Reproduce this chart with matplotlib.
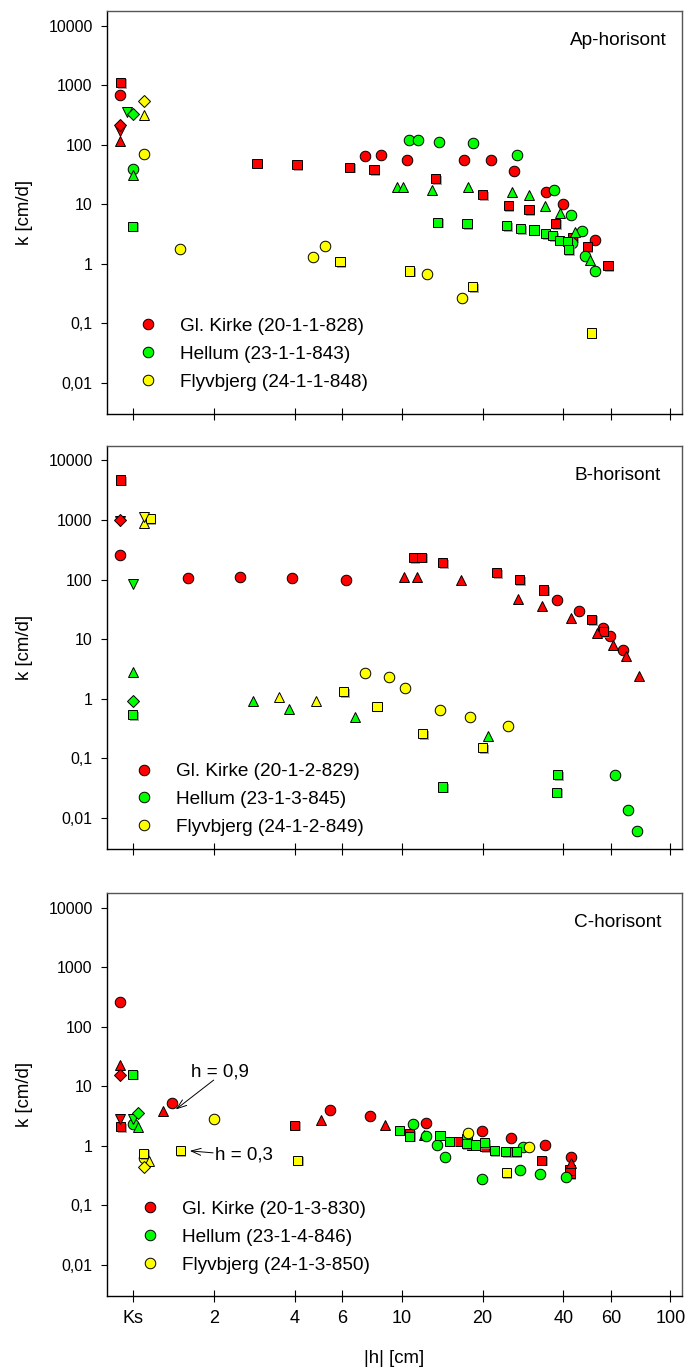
import matplotlib.pyplot as plt
import matplotlib.patheffects as pe
from matplotlib.lines import Line2D
from matplotlib.ticker import NullLocator

plt.rcParams['font.family'] = ['Liberation Sans', 'DejaVu Sans']

# (|h| in cm, k in cm/d); the Ks points sit at |h| ~ 1
# --- Ap-horisont ---
ap_kirke_circle = [(0.9, 690), (7.3, 65), (8.4, 68), (10.45, 56), (17.0, 56), (21.5, 56),
                   (26.2, 36.5), (34.6, 16.4), (39.9, 10.2), (52.6, 2.5)]
ap_kirke_square = [(0.9, 1120), (2.9, 49), (4.08, 46), (6.4, 42), (7.9, 38), (13.4, 27),
                   (20.0, 14.4), (24.9, 9.4), (29.8, 8.1), (37.5, 4.8), (43.3, 2.8),
                   (49.0, 1.95), (58.6, 0.93)]
ap_kirke_up = [(0.9, 117)]
ap_kirke_down = [(0.9, 168)]
ap_kirke_diamond = [(0.9, 218)]

ap_hellum_circle = [(1.0, 39), (10.7, 119), (11.5, 119), (13.8, 113), (18.5, 109), (26.9, 68),
                    (36.8, 17.5), (42.6, 6.7), (46.7, 3.6), (42.9, 2.2), (48.1, 1.37),
                    (52.6, 0.75)]
ap_hellum_square = [(1.0, 4.3), (13.6, 5.0), (17.5, 4.8), (24.6, 4.4), (27.7, 3.9), (31.1, 3.7),
                    (34.4, 3.2), (36.5, 2.95), (38.8, 2.5), (41.4, 2.4), (41.7, 1.75)]
ap_hellum_up = [(1.0, 31), (9.6, 19.4), (10.1, 19.4), (13.0, 17.5), (17.7, 19.9), (25.8, 16),
                (29.8, 14.4), (34.1, 9.2), (39.0, 7.1), (44.2, 3.4), (50.4, 1.17)]
ap_hellum_down = [(0.95, 350)]
ap_hellum_diamond = [(1.0, 330)]

ap_flyv_circle = [(1.1, 70), (1.5, 1.77), (4.68, 1.28), (5.2, 1.96), (12.4, 0.67), (16.8, 0.27)]
ap_flyv_square = [(5.9, 1.08), (10.7, 0.76), (18.4, 0.41), (50.7, 0.069)]
ap_flyv_up = [(1.1, 318)]
ap_flyv_diamond = [(1.1, 545)]

# --- B-horisont ---
b_kirke_circle = [(0.9, 254), (1.6, 107), (2.5, 111), (3.9, 107), (6.2, 100), (38.0, 46),
                  (45.8, 30), (55.9, 15.3), (59.5, 11.2), (66.7, 6.7)]
b_kirke_square = [(0.9, 4700), (11.1, 232), (11.9, 238), (14.2, 194), (22.6, 131), (27.4, 99),
                  (33.8, 67), (50.9, 21.6), (56.2, 13.4)]
b_kirke_up = [(10.2, 110), (11.4, 110), (16.6, 97), (27.0, 47.6), (33.2, 36.3), (42.7, 22.5),
              (53.1, 12.6), (61.2, 8.0), (68.2, 5.2), (76.3, 2.45)]
b_kirke_down = [(0.9, 950)]
b_kirke_diamond = [(0.9, 1000)]

b_hellum_circle = [(62.1, 0.053), (69.8, 0.0136), (75.2, 0.006)]
b_hellum_square = [(1.0, 0.54), (14.2, 0.033), (38.0, 0.053), (37.8, 0.027)]
b_hellum_up = [(1.0, 2.8), (2.8, 0.93), (3.8, 0.67), (6.7, 0.50), (21.0, 0.234)]
b_hellum_down = [(1.0, 85)]
b_hellum_diamond = [(1.0, 0.90)]

b_flyv_circle = [(7.3, 2.75), (9.0, 2.36), (10.3, 1.52), (13.9, 0.66), (18.0, 0.50), (24.9, 0.355)]
b_flyv_square = [(1.16, 1050), (6.1, 1.32), (8.1, 0.75), (12.0, 0.257), (20.0, 0.152)]
b_flyv_up = [(1.1, 885), (3.5, 1.06), (4.8, 0.90)]
b_flyv_down = [(1.1, 1120)]

# --- C-horisont ---
c_kirke_circle = [(0.9, 259), (1.4, 5.2), (5.4, 3.9), (7.6, 3.2), (12.3, 2.4), (19.9, 1.73),
                  (25.5, 1.35), (34.1, 1.02), (42.6, 0.65)]
c_kirke_square = [(0.9, 2.07), (4.0, 2.2), (10.7, 1.6), (16.3, 1.19), (18.2, 1.02), (20.4, 0.95),
                  (26.1, 0.785), (33.1, 0.57), (42.3, 0.34), (42.3, 0.39)]
c_kirke_up = [(0.9, 23), (1.3, 3.84), (5.0, 2.67), (8.65, 2.2), (12.1, 1.5), (42.6, 0.51)]
c_kirke_down = [(0.9, 2.75)]
c_kirke_diamond = [(0.9, 15.3)]

c_hellum_circle = [(1.0, 2.3), (11.0, 2.35), (12.3, 1.44), (13.5, 1.02), (14.5, 0.65),
                   (19.9, 0.275), (27.6, 0.385), (32.7, 0.334), (41.0, 0.30), (28.4, 0.95)]
c_hellum_square = [(1.0, 15.9), (9.8, 1.82), (10.7, 1.44), (13.9, 1.5), (15.1, 1.19), (17.5, 1.32),
                   (17.4, 1.08), (18.8, 1.02), (20.4, 1.13), (22.1, 0.815), (24.4, 0.785),
                   (26.7, 0.785)]
c_hellum_up = [(1.05, 2.07)]
c_hellum_down = [(1.0, 2.75)]
c_hellum_diamond = [(1.05, 3.47)]

c_flyv_circle = [(1.1, 0.61), (2.0, 2.85), (17.6, 1.6), (29.7, 0.95)]
c_flyv_square = [(1.1, 0.74), (1.5, 0.815), (4.1, 0.568), (24.5, 0.352)]
c_flyv_up = [(1.15, 0.547)]
c_flyv_diamond = [(1.1, 0.44)]

horizons = ['Ap-horisont', 'B-horisont', 'C-horisont']
site_labels = [
    ['Gl. Kirke (20-1-1-828)', 'Hellum (23-1-1-843)', 'Flyvbjerg (24-1-1-848)'],
    ['Gl. Kirke (20-1-2-829)', 'Hellum (23-1-3-845)', 'Flyvbjerg (24-1-2-849)'],
    ['Gl. Kirke (20-1-3-830)', 'Hellum (23-1-4-846)', 'Flyvbjerg (24-1-3-850)'],
]
x_ticks = [1, 2, 4, 6, 10, 20, 40, 60, 100]
x_ticklabels = ['Ks', '2', '4', '6', '10', '20', '40', '60', '100']
y_ticks = [0.01, 0.1, 1, 10, 100, 1000, 10000]
y_ticklabels = ['0,01', '0,1', '1', '10', '100', '1000', '10000']

colors = ['#ff0000', '#00ff00', '#ffff00']
markers = {'circle': ('o', 7.6), 'square': ('s', 6.6), 'up': ('^', 7.8),
           'down': ('v', 7.8), 'diamond': ('D', 6.0)}

panels = [
    [{'circle': ap_kirke_circle, 'square': ap_kirke_square, 'up': ap_kirke_up,
      'down': ap_kirke_down, 'diamond': ap_kirke_diamond},
     {'circle': ap_hellum_circle, 'square': ap_hellum_square, 'up': ap_hellum_up,
      'down': ap_hellum_down, 'diamond': ap_hellum_diamond},
     {'circle': ap_flyv_circle, 'square': ap_flyv_square, 'up': ap_flyv_up,
      'diamond': ap_flyv_diamond}],
    [{'circle': b_kirke_circle, 'square': b_kirke_square, 'up': b_kirke_up,
      'down': b_kirke_down, 'diamond': b_kirke_diamond},
     {'circle': b_hellum_circle, 'square': b_hellum_square, 'up': b_hellum_up,
      'down': b_hellum_down, 'diamond': b_hellum_diamond},
     {'circle': b_flyv_circle, 'square': b_flyv_square, 'up': b_flyv_up,
      'down': b_flyv_down}],
    [{'circle': c_kirke_circle, 'square': c_kirke_square, 'up': c_kirke_up,
      'down': c_kirke_down, 'diamond': c_kirke_diamond},
     {'circle': c_hellum_circle, 'square': c_hellum_square, 'up': c_hellum_up,
      'down': c_hellum_down, 'diamond': c_hellum_diamond},
     {'circle': c_flyv_circle, 'square': c_flyv_square, 'up': c_flyv_up,
      'diamond': c_flyv_diamond}],
]

# axes boxes [left, bottom, width, height] in figure fractions
boxes = [[0.1551, 0.6980, 0.8355, 0.2938],
         [0.1551, 0.3807, 0.8355, 0.2940],
         [0.1551, 0.0549, 0.8355, 0.2937]]
legend_anchor = [(0.0555, 0.149), (0.048, 0.123), (0.058, 0.145)]

square_shadow = [pe.SimplePatchShadow(offset=(1.2, -1.2), shadow_rgbFace='0.55', alpha=0.8),
                 pe.Normal()]

fig = plt.figure(figsize=(6.88, 13.71), dpi=100)

for i in range(3):
    ax = fig.add_axes(boxes[i])
    for site, color in zip(panels[i], colors):
        for kind, pts in site.items():
            m, ms = markers[kind]
            h = [p[0] for p in pts]
            k = [p[1] for p in pts]
            ax.plot(h, k, ls='none', marker=m, ms=ms, mfc=color, mec='black', mew=0.7,
                    path_effects=square_shadow if kind == 'square' else None)

    ax.set_xscale('log')
    ax.set_yscale('log')
    ax.set_xlim(0.8, 110)
    ax.set_ylim(0.003, 17500)
    ax.set_xticks(x_ticks)
    ax.set_yticks(y_ticks)
    ax.set_yticklabels(y_ticklabels)
    ax.xaxis.set_minor_locator(NullLocator())
    ax.yaxis.set_minor_locator(NullLocator())
    if i == 2:
        ax.set_xticklabels(x_ticklabels)
    else:
        ax.set_xticklabels([])
    ax.tick_params(axis='x', direction='inout', length=8, width=0.8, labelsize=13, pad=6)
    ax.tick_params(axis='y', direction='out', length=4.6, width=0.8, labelsize=11.4, pad=5.5)
    for s in ['left', 'bottom']:
        ax.spines[s].set_color('black')
        ax.spines[s].set_linewidth(1.0)
    for s in ['top', 'right']:
        ax.spines[s].set_color('#555555')
        ax.spines[s].set_linewidth(1.0)

    ax.set_ylabel('k [cm/d]', fontsize=13.4)
    ax.yaxis.set_label_coords(-0.129, 0.5)

    ax.text(0.8895, 0.927, horizons[i], transform=ax.transAxes, ha='center', va='center',
            fontsize=13.7)

    handles = [Line2D([], [], ls='none', marker='o', ms=7.6, mfc=c, mec='black', mew=0.7)
               for c in colors]
    ax.legend(handles, site_labels[i], loc='center left', bbox_to_anchor=legend_anchor[i],
              frameon=False, fontsize=13.7, handlelength=1.0, handletextpad=1.2,
              labelspacing=0.56, borderpad=0, borderaxespad=0)

    if i == 2:
        ax.set_xlabel('|h| [cm]', fontsize=13.4)
        ax.xaxis.set_label_coords(0.5, -0.135)
        arrow = dict(arrowstyle='->,head_length=0.7,head_width=0.25', lw=0.7, color='black',
                     shrinkA=0, shrinkB=0)
        ax.annotate('', xy=(1.445, 4.04), xytext=(2.0, 12.6), arrowprops=arrow)
        ax.text(1.64, 17.4, 'h = 0,9', ha='left', va='center', fontsize=13.5)
        ax.annotate('', xy=(1.63, 0.815), xytext=(1.99, 0.755), arrowprops=arrow)
        ax.text(2.03, 0.69, 'h = 0,3', ha='left', va='center', fontsize=13.5)

fig.savefig('out.png', dpi=100)
